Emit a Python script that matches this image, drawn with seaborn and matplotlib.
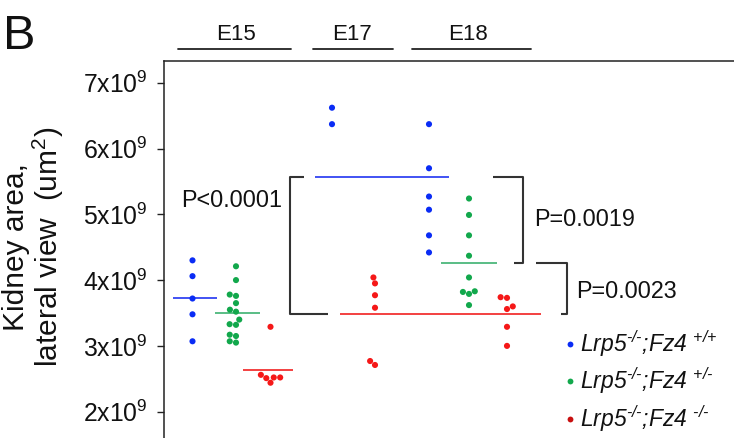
import numpy as np
import pandas as pd
import matplotlib
matplotlib.use("Agg")
import matplotlib.pyplot as plt
import seaborn as sns
from matplotlib.lines import Line2D

# ---------------- data (kidney area, in units of 1e9 um^2) ----------------
stages = ["E15", "E17", "E18"]
genotypes = ["+/+", "+/-", "-/-"]

e15_wt = [4.30, 4.06, 3.72, 3.48, 3.07]
e15_het = [4.21, 4.00, 3.76, 3.78, 3.65, 3.55, 3.52, 3.40, 3.32, 3.33,
           3.15, 3.17, 3.05, 3.07]
e15_ko = [3.29, 2.52, 2.51, 2.56, 2.52, 2.44]
e17_wt = [6.62, 6.37]
e17_ko = [4.04, 3.95, 3.77, 3.58, 2.71, 2.77]
e18_wt = [6.37, 5.70, 5.27, 5.07, 4.68, 4.42]
e18_het = [5.24, 4.99, 4.68, 4.37, 4.04, 3.82, 3.79, 3.83, 3.62]
e18_ko = [3.74, 3.73, 3.60, 3.56, 3.29, 3.00]

ytick_vals = [2, 3, 4, 5, 6, 7]
ytick_labels = [r"$%d\mathrm{x}10^{9}$" % v for v in ytick_vals]
p_labels = ["P<0.0001", "P=0.0019", "P=0.0023"]
HY = "\u2010"
legend_labels = ["Lrp5$^{\\mathsf{%s/%s}}$;Fz4 $^{\\mathsf{{+}/{+}}}$" % (HY, HY),
                 "Lrp5$^{\\mathsf{%s/%s}}$;Fz4 $^{\\mathsf{{+}/%s}}$" % (HY, HY, HY),
                 "Lrp5$^{\\mathsf{%s/%s}}$;Fz4 $^{\\mathsf{%s/%s}}$" % (HY, HY, HY, HY)]

groups = [("E15", "+/+", e15_wt), ("E15", "+/-", e15_het), ("E15", "-/-", e15_ko),
          ("E17", "+/+", e17_wt), ("E17", "-/-", e17_ko),
          ("E18", "+/+", e18_wt), ("E18", "+/-", e18_het), ("E18", "-/-", e18_ko)]

# ---------------- layout (x in pixel-like units of the axes) ----------------
XPOS = {("E15", "+/+"): 192.5, ("E15", "+/-"): 236, ("E15", "-/-"): 270.5,
        ("E17", "+/+"): 332, ("E17", "-/-"): 375,
        ("E18", "+/+"): 429, ("E18", "+/-"): 469, ("E18", "-/-"): 507}
PAL = {"+/+": "#0a2cf5", "+/-": "#12a84c", "-/-": "#f51818"}
LINE_COL = {"+/+": "#3344f2", "+/-": "#4cb87c", "-/-": "#f23232"}

rows = [(s, g, v * 1e9) for s, g, vals in groups for v in vals]
df = pd.DataFrame(rows, columns=["stage", "genotype", "area"])
df["xpos"] = [XPOS[(s, g)] for s, g in zip(df["stage"], df["genotype"])]

sns.set_theme(style="white")
plt.rcParams["font.family"] = ["Liberation Sans", "DejaVu Sans"]
plt.rcParams["mathtext.fontset"] = "custom"
plt.rcParams["mathtext.rm"] = "Liberation Sans"
plt.rcParams["mathtext.it"] = "Liberation Sans:italic"
plt.rcParams["mathtext.bf"] = "Liberation Sans:bold"
plt.rcParams["mathtext.sf"] = "Liberation Sans:italic"

W, H = 734, 438
fig = plt.figure(figsize=(W / 100, H / 100), dpi=100)
ax = fig.add_axes([164 / W, 0, 1 - 164 / W, 1 - 61 / H])

sns.swarmplot(data=df, x="xpos", y="area", hue="genotype", hue_order=genotypes,
              palette=PAL, native_scale=True, orient="v", size=4.4, linewidth=0,
              ax=ax, legend=False)

ax.set_xlim(164, 734)
ax.set_ylim(1.60e9, 7.33e9)

# mean lines
def gmean(*arrs):
    return np.mean(np.concatenate([np.asarray(a) for a in arrs])) * 1e9

m_e15_wt = gmean(e15_wt)
m_e15_het = gmean(e15_het)
m_e15_ko = gmean(e15_ko)
m_late_wt = gmean(e17_wt, e18_wt)
m_e18_het = gmean(e18_het)
m_late_ko = gmean(e17_ko, e18_ko)

mean_lines = [(m_e15_wt, 172.7, 216.7, "+/+"), (m_e15_het, 215, 260, "+/-"),
              (m_e15_ko, 243, 293, "-/-"), (m_late_wt, 315, 449, "+/+"),
              (m_e18_het, 440.7, 497.3, "+/-"), (m_late_ko, 340, 540.7, "-/-")]
for m, x0, x1, g in mean_lines:
    ax.hlines(m, x0, x1, color=LINE_COL[g], lw=1.3)

# significance brackets
bk = dict(color="#333333", lw=1.5, solid_capstyle="butt")
ax.plot([304.3, 290, 290, 328.3], [m_late_wt, m_late_wt, m_late_ko, m_late_ko], **bk)
ax.plot([492.7, 523.3, 523.3, 514.3], [m_late_wt, m_late_wt, m_e18_het, m_e18_het], **bk)
ax.plot([535.7, 567.3, 567.3, 561], [m_e18_het, m_e18_het, m_late_ko, m_late_ko], **bk)

def ftext(x, y, s, **kw):
    return fig.text(x / W, 1 - y / H, s, **kw)

ftext(181, 206.7, p_labels[0], fontsize=16.8, ha="left", va="baseline", color="#111111")
ftext(534.5, 226, p_labels[1], fontsize=16.8, ha="left", va="baseline", color="#111111")
ftext(576.5, 298.3, p_labels[2], fontsize=16.8, ha="left", va="baseline", color="#111111")

# axis styling
ax.set_yticks([v * 1e9 for v in ytick_vals])
ax.set_yticklabels(ytick_labels)
ax.tick_params(axis="y", left=True, length=5, width=1, direction="out",
               pad=6.5, labelsize=17.8, colors="#222222", labelcolor="#111111")
ax.tick_params(axis="x", bottom=False, labelbottom=False)
ax.set_xlabel("")
ax.set_ylabel("")
for sp in ["right", "bottom"]:
    ax.spines[sp].set_visible(False)
for sp in ["left", "top"]:
    ax.spines[sp].set_color("#222222")
    ax.spines[sp].set_linewidth(1.1)

# y label
ftext(34, 247, "Kidney area,\nlateral view  (um$^{2}$)", rotation=90,
      ha="center", va="center", fontsize=21.5, linespacing=1.05,
      multialignment="center", color="#111111")

# panel letter and stage headers
ftext(3, 49, "B", fontsize=35, ha="left", va="baseline", color="#111111")
headers = [(stages[0], 178, 291, 235.5), (stages[1], 312.5, 392.7, 352),
           (stages[2], 412, 531, 468)]
for name, x0, x1, xc in headers:
    ftext(xc, 40, name, fontsize=16, ha="center", va="baseline", color="#111111")
    fig.add_artist(Line2D([x0 / W, x1 / W], [1 - 49 / H] * 2,
                          transform=fig.transFigure, color="#222222", lw=1.3))

# legend
handles = [Line2D([], [], ls="", marker="o", ms=4.2, mec="none",
                  mfc=PAL[g] if g != "-/-" else "#c81010") for g in genotypes]
leg = ax.legend(handles, legend_labels, loc="upper left",
                bbox_to_anchor=(563 / W, 1 - 328 / H), bbox_transform=fig.transFigure,
                frameon=False, fontsize=16.5, handlelength=0.6, handletextpad=0.15,
                labelspacing=0.3, borderpad=0, borderaxespad=0)
for t in leg.get_texts():
    t.set_color("#111111")
    t.set_fontstyle("italic")

fig.savefig("out.png", dpi=100)
